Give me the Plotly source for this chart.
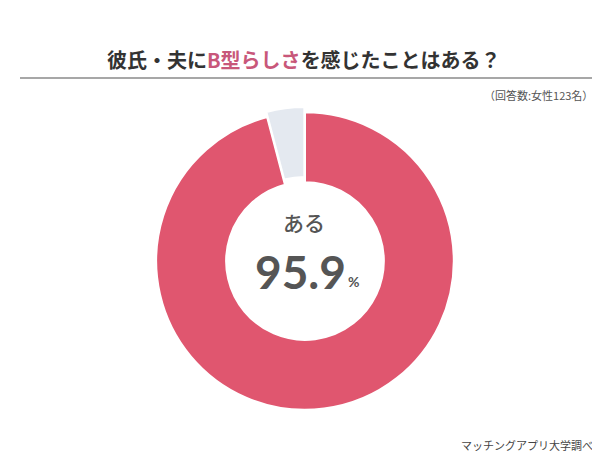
import plotly.graph_objects as go

labels = ["ある", "ない"]
values = [95.9, 4.1]
colors = ["#E0566F", "#E4E9F0"]
title_parts = ["彼氏・夫に", "B型らしさ", "を感じたことはある？"]
subtitle = "（回答数:女性123名）"
source = "マッチングアプリ大学調べ"

FONT = "Noto Sans CJK JP"

fig = go.Figure(go.Pie(
    labels=labels,
    values=values,
    sort=False,
    direction="clockwise",
    rotation=0,
    hole=0.53,
    pull=[0, 0.035],
    marker=dict(colors=colors, line=dict(color="white", width=2)),
    textinfo="none",
    hoverinfo="label+percent",
    showlegend=False,
    domain=dict(x=[143/600, 451/600], y=[1-407/455, 1-99/455]),
))

title_html = (f"<b><span style='color:#333333'>{title_parts[0]}</span>"
              f"<span style='color:#C8577A'>{title_parts[1]}</span>"
              f"<span style='color:#333333'>{title_parts[2]}</span></b>")

anns = [
    dict(text=title_html, x=296/600, y=1-51/455, xref="paper", yref="paper",
         showarrow=False, font=dict(size=20, family=FONT, color="#333333"),
         xanchor="center", yanchor="middle"),
    dict(text=subtitle, x=587/600, y=1-87/455, xref="paper", yref="paper",
         showarrow=False, font=dict(size=11, family=FONT, color="#555555"),
         xanchor="right", yanchor="middle"),
    dict(text=source, x=587/600, y=1-437/455, xref="paper", yref="paper",
         showarrow=False, font=dict(size=11, family=FONT, color="#444444"),
         xanchor="right", yanchor="middle"),
    dict(text=labels[0], x=296/600, y=1-214/455, xref="paper", yref="paper",
         showarrow=False, font=dict(size=21, family=FONT, color="#555555", weight=500),
         xanchor="center", yanchor="middle"),
    dict(text=f"<b>{values[0]}</b>", x=292/600, y=1-263/455, xref="paper", yref="paper",
         showarrow=False, font=dict(size=46, family="Lato", color="#555555"),
         xanchor="center", yanchor="middle"),
    dict(text="<b>%</b>", x=345/600, y=1-273/455, xref="paper", yref="paper",
         showarrow=False, font=dict(size=14, family="Lato", color="#555555"),
         xanchor="center", yanchor="middle"),
]

fig.update_layout(
    width=600, height=455,
    margin=dict(l=0, r=0, t=0, b=0),
    paper_bgcolor="white", plot_bgcolor="white",
    annotations=anns,
    shapes=[dict(type="line", xref="paper", yref="paper",
                 x0=12/600, x1=591/600, y0=1-70/455, y1=1-70/455,
                 line=dict(color="#8A8A8A", width=1.5))],
)

fig.write_html("out.html")
